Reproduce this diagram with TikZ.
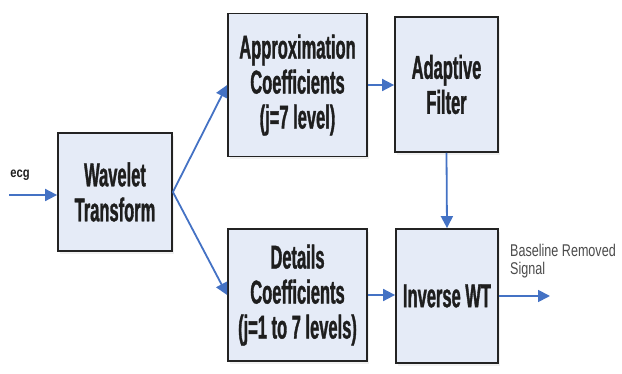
\documentclass[tikz,border=0pt]{standalone}
\usepackage{fontspec}
\usepackage{tikz}
\usetikzlibrary{arrows.meta,shadows}
\newfontfamily\boxfont{Liberation Sans Bold}[FakeStretch=0.5,FakeBold=1]
\newfontfamily\tagfont{Liberation Sans Bold}[FakeStretch=0.8]
\newfontfamily\smallfont{Liberation Sans}[FakeStretch=0.74]
\definecolor{boxfill}{RGB}{229,235,247}
\definecolor{boxline}{RGB}{35,35,35}
\definecolor{flow}{RGB}{68,114,196}
\definecolor{ink}{RGB}{30,30,30}
\tikzset{
  block/.style={draw=boxline, line width=1.8pt, fill=boxfill, align=center,
    text=ink, inner sep=0pt,
    font=\boxfont\fontsize{33}{35}\selectfont,
    drop shadow={opacity=0.12, shadow xshift=2pt, shadow yshift=-3pt}},
  flowline/.style={draw=flow, line width=1.8pt, -{Triangle[length=12pt,width=12pt]}},
  tag/.style={text=ink, inner sep=0pt}
}
\newcommand{\blocknode}[6]{\node[block, minimum width=#4, minimum height=#5] (#1) at (#2,#3) {#6};}
\begin{document}
\begin{tikzpicture}[x=1pt,y=-1pt]
\useasboundingbox (0,0) rectangle (622,374);
% blocks
\blocknode{wt}{115}{192}{114pt}{118pt}{Wavelet\\Transform}
\blocknode{approx}{297.5}{85}{139pt}{143pt}{Approximation\\Coefficients\\(j=7 level)}
\blocknode{adapt}{446.5}{84.5}{103pt}{135pt}{Adaptive\\Filter}
\blocknode{details}{297.5}{295}{139pt}{132pt}{Details\\Coefficients\\(j=1 to 7 levels)}
\blocknode{inv}{447}{296}{102pt}{134pt}{Inverse WT}
% free ends
\coordinate (in) at (9,195);
\coordinate (out) at (550,296);
% labels
\node[tag, font=\tagfont\fontsize{14}{16}\selectfont] (ecglabel) at (20,175) {ecg};
\node[tag, anchor=north west, align=left, font=\smallfont\fontsize{17}{18}\selectfont, text=ink!80] (outlabel) at (510,244) {Baseline Removed\\Signal};
% connectors
\draw[flowline] (in) -- (in -| wt.west);
\draw[flowline] (wt.east) -- (approx.west);
\draw[flowline] (wt.east) -- (details.west);
\draw[flowline] (approx.east) -- (approx.east -| adapt.west);
\draw[flowline] (adapt.south) -- (inv.north);
\draw[flowline] (details.east) -- (details.east -| inv.west);
\draw[flowline] (inv.east) -- (out);
\end{tikzpicture}
\end{document}
